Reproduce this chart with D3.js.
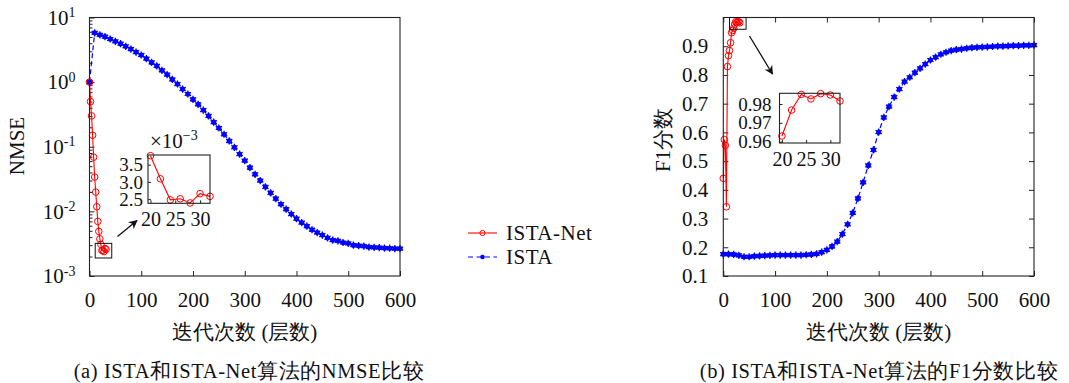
<!DOCTYPE html>
<html>
<head>
<meta charset="utf-8">
<script src="https://cdn.jsdelivr.net/npm/d3@7"></script>
<style>
  body { margin: 0; background: #fff; }
  svg { display: block; }
</style>
</head>
<body>
<div id="chart"></div>
<script>
// ---- 数据 ----
// ISTA: 每 10 次迭代一个点
const istaIter = [0, 10, 20, 30, 40, 50, 60, 70, 80, 90, 100, 110, 120, 130, 140, 150, 160, 170, 180, 190,
  200, 210, 220, 230, 240, 250, 260, 270, 280, 290, 300, 310, 320, 330, 340, 350, 360, 370, 380, 390,
  400, 410, 420, 430, 440, 450, 460, 470, 480, 490, 500, 510, 520, 530, 540, 550, 560, 570, 580, 590, 600];
const istaNmse = [1.0, 5.8, 5.4, 5.05, 4.65, 4.28, 3.94, 3.58, 3.25, 2.92, 2.63, 2.31, 2.02, 1.78, 1.52, 1.31,
  1.10, 0.935, 0.78, 0.655, 0.54, 0.454, 0.37, 0.30, 0.24, 0.195, 0.156, 0.123, 0.098, 0.077, 0.061,
  0.0475, 0.0375, 0.030, 0.0239, 0.0193, 0.0157, 0.0129, 0.0108, 0.0091, 0.0077, 0.0067, 0.0059, 0.0052,
  0.0047, 0.0043, 0.0039, 0.0036, 0.0035, 0.0033, 0.0032, 0.0030, 0.00295, 0.0029, 0.0028, 0.00278,
  0.00275, 0.0027, 0.00269, 0.00266, 0.00266];
const istaF1 = [0.176, 0.176, 0.175, 0.172, 0.167, 0.167, 0.169, 0.170, 0.171, 0.172, 0.173, 0.173, 0.173,
  0.173, 0.173, 0.173, 0.174, 0.175, 0.177, 0.183, 0.191, 0.203, 0.220, 0.246, 0.280, 0.320, 0.370, 0.426,
  0.485, 0.539, 0.601, 0.652, 0.690, 0.723, 0.751, 0.777, 0.792, 0.808, 0.823, 0.838, 0.852, 0.862, 0.872,
  0.879, 0.885, 0.888, 0.890, 0.893, 0.895, 0.896, 0.897, 0.898, 0.899, 0.900, 0.900, 0.901, 0.902, 0.902,
  0.903, 0.903, 0.904];

// ISTA-Net: 每 2 层一个点
const netIter = [0, 2, 4, 6, 8, 10, 12, 14, 16, 18, 20, 22, 24, 26, 28, 30, 32];
const netNmse = [1.0, 0.50, 0.30, 0.151, 0.069, 0.034, 0.0199, 0.0118, 0.0070, 0.0049,
  0.00376, 0.00309, 0.00248, 0.00251, 0.00239, 0.00266, 0.00258];
const netF1 = [0.44, 0.575, 0.555, 0.341, 0.829, 0.867, 0.885, 0.912, 0.947, 0.955,
  0.963, 0.9768, 0.9851, 0.9827, 0.9855, 0.9848, 0.9816];

const xTicks = [0, 100, 200, 300, 400, 500, 600];
const nmseTicks = [10, 1, 0.1, 0.01, 0.001];
const f1Ticks = [0.1, 0.2, 0.3, 0.4, 0.5, 0.6, 0.7, 0.8, 0.9];
const insetXTicks = [20, 25, 30];
const nmseInsetTicks = [2.5, 3.0, 3.5];
const f1InsetTicks = [0.96, 0.97, 0.98];

const seriesNames = ['ISTA-Net', 'ISTA'];
const xLabel = '迭代次数 (层数)';
const captions = ['(a) ISTA和ISTA-Net算法的NMSE比较', '(b) ISTA和ISTA-Net算法的F1分数比较'];

// ---- 配置 ----
const W = 1069, H = 383;
const FS = 21;
const FONT = "'Liberation Serif', serif";
const RED = '#ff0000', BLUE = '#0000ff';
const panelA = { x0: 89.5, x1: 400, y0: 17.5, y1: 276 };
const panelB = { x0: 723.3, x1: 1034, y0: 17.5, y1: 276 };

const svg = d3.select('#chart').append('svg')
  .attr('width', W).attr('height', H)
  .attr('font-family', FONT);

const defs = svg.append('defs');
defs.append('marker')
  .attr('id', 'arrow')
  .attr('viewBox', '0 0 10 10')
  .attr('refX', 9).attr('refY', 5)
  .attr('markerWidth', 9).attr('markerHeight', 9)
  .attr('markerUnits', 'userSpaceOnUse')
  .attr('orient', 'auto')
  .append('path').attr('d', 'M0,0 L10,5 L0,10 L3,5 Z').attr('fill', '#111');

function styleAxis(g, fs) {
  g.attr('font-family', FONT).attr('font-size', fs || FS);
  g.select('.domain').remove();
  g.selectAll('.tick line').attr('stroke', '#222');
  g.selectAll('.tick text').attr('fill', '#111');
}

function label(g, txt, x, y, fs, rot) {
  return g.append('text')
    .attr('transform', rot ? `translate(${x},${y}) rotate(-90)` : `translate(${x},${y})`)
    .attr('text-anchor', 'middle').attr('dominant-baseline', 'central')
    .attr('font-family', FONT).attr('font-size', fs).attr('fill', '#111').text(txt);
}

function frame(g, x, y, w, h) {
  g.append('rect').attr('x', x).attr('y', y).attr('width', w).attr('height', h)
    .attr('fill', 'none').attr('stroke', '#222').attr('stroke-width', 1.1);
}

const starSym = d3.symbol(d3.symbolAsterisk, 36);

function drawIsta(g, xs, ys, vals) {
  const line = d3.line().x((d, i) => xs(istaIter[i])).y(d => ys(d));
  g.append('path').datum(vals).attr('d', line)
    .attr('fill', 'none').attr('stroke', BLUE).attr('stroke-width', 1.2)
    .attr('stroke-dasharray', '5,3');
  const m = g.append('g').selectAll('g').data(vals).join('g')
    .attr('transform', (d, i) => `translate(${xs(istaIter[i])},${ys(d)})`);
  m.append('circle').attr('r', 2.6).attr('fill', BLUE);
  m.append('path').attr('d', starSym).attr('stroke', BLUE).attr('stroke-width', 1.3).attr('fill', 'none');
}

function drawNet(g, xs, ys, iters, vals) {
  const line = d3.line().x((d, i) => xs(iters[i])).y(d => ys(d));
  g.append('path').datum(vals).attr('d', line)
    .attr('fill', 'none').attr('stroke', RED).attr('stroke-width', 1.1);
  g.append('g').selectAll('circle').data(vals).join('circle')
    .attr('cx', (d, i) => xs(iters[i])).attr('cy', d => ys(d))
    .attr('r', 3.3).attr('fill', 'none').attr('stroke', RED).attr('stroke-width', 1);
}

// ---- (a) NMSE ----
{
  const p = panelA;
  const x = d3.scaleLinear().domain([0, 600]).range([p.x0, p.x1]);
  const y = d3.scaleLog().domain([0.001, 10]).range([p.y1, p.y0]);
  const g = svg.append('g');

  // 坐标轴
  g.append('g').attr('transform', `translate(0,${p.y1})`)
    .call(d3.axisBottom(x).tickValues(xTicks).tickSizeInner(-5).tickSizeOuter(0).tickPadding(16))
    .call(styleAxis);

  const minors = [];
  [0.001, 0.01, 0.1, 1].forEach(b => { for (let k = 2; k <= 9; k++) minors.push(b * k); });
  g.append('g').attr('transform', `translate(${p.x0},0)`)
    .call(d3.axisLeft(y).tickValues(minors).tickSizeInner(-3).tickSizeOuter(0).tickFormat(''))
    .call(styleAxis);
  const ya = g.append('g').attr('transform', `translate(${p.x0},0)`)
    .call(d3.axisLeft(y).tickValues(nmseTicks).tickSizeInner(-5).tickSizeOuter(0).tickPadding(14))
    .call(styleAxis);
  ya.selectAll('.tick text').text(null).attr('dy', '0.32em')
    .each(function (d) {
      const t = d3.select(this);
      t.append('tspan').text('10');
      t.append('tspan').attr('font-size', 14).attr('dy', '-0.55em').text(Math.round(Math.log10(d)));
    });

  drawIsta(g, x, y, istaNmse);
  drawNet(g, x, y, netIter, netNmse);
  frame(g, p.x0, p.y0, p.x1 - p.x0, p.y1 - p.y0);

  // 放大区域标记
  g.append('rect').attr('x', x(11)).attr('y', y(0.0032))
    .attr('width', x(43) - x(11)).attr('height', y(0.0019) - y(0.0032))
    .attr('fill', 'none').attr('stroke', '#111').attr('stroke-width', 1);
  g.append('line').attr('x1', 117.5).attr('y1', 236.5).attr('x2', 137).attr('y2', 220.5)
    .attr('stroke', '#111').attr('stroke-width', 1.3).attr('marker-end', 'url(#arrow)');

  // 插图
  const ib = { x0: 148, x1: 210, y0: 155, y1: 203.3 };
  const ix = d3.scaleLinear().domain([19.5, 32]).range([ib.x0, ib.x1]);
  const iy = d3.scaleLinear().domain([2.38, 3.78]).range([ib.y1, ib.y0]);
  const ig = g.append('g');
  ig.append('rect').attr('x', ib.x0).attr('y', ib.y0).attr('width', ib.x1 - ib.x0)
    .attr('height', ib.y1 - ib.y0).attr('fill', '#fff');
  ig.append('g').attr('transform', `translate(0,${ib.y1})`)
    .call(d3.axisBottom(ix).tickValues(insetXTicks).tickSizeInner(-3).tickSizeOuter(0).tickPadding(9))
    .call(styleAxis, 20);
  ig.append('g').attr('transform', `translate(${ib.x0},0)`)
    .call(d3.axisLeft(iy).tickValues(nmseInsetTicks).tickSizeInner(-3).tickSizeOuter(0)
      .tickPadding(5).tickFormat(d3.format('.1f')))
    .call(styleAxis, 19);
  drawNet(ig, ix, d => iy(d * 1000), netIter.slice(10), netNmse.slice(10));
  frame(ig, ib.x0, ib.y0, ib.x1 - ib.x0, ib.y1 - ib.y0);
  const sc = ig.append('text').attr('x', 150).attr('y', 148)
    .attr('font-family', FONT).attr('font-size', FS).attr('fill', '#111');
  sc.append('tspan').text('×10');
  sc.append('tspan').attr('font-size', 14).attr('dy', '-0.55em').text('−3');

  // 标签
  label(g, 'NMSE', 17, 146, FS, true);
  label(g, xLabel, (p.x0 + p.x1) / 2, 332, FS);
  label(g, captions[0], 249, 371, 20.5).attr('letter-spacing', 0.6);
}

// ---- (b) F1 ----
{
  const p = panelB;
  const x = d3.scaleLinear().domain([0, 600]).range([p.x0, p.x1]);
  const y = d3.scaleLinear().domain([0.1, 1.0]).range([p.y1, p.y0]);
  const g = svg.append('g');

  g.append('g').attr('transform', `translate(0,${p.y1})`)
    .call(d3.axisBottom(x).tickValues(xTicks).tickSizeInner(-5).tickSizeOuter(0).tickPadding(16))
    .call(styleAxis);
  g.append('g').attr('transform', `translate(0,${p.y0})`)
    .call(d3.axisTop(x).tickValues(xTicks).tickSizeInner(-5).tickSizeOuter(0).tickFormat(''))
    .call(styleAxis);
  g.append('g').attr('transform', `translate(${p.x0},0)`)
    .call(d3.axisLeft(y).tickValues(f1Ticks).tickSizeInner(-5).tickSizeOuter(0).tickPadding(15)
      .tickFormat(d3.format('.1f')))
    .call(styleAxis);
  g.append('g').attr('transform', `translate(${p.x1},0)`)
    .call(d3.axisRight(y).tickValues(f1Ticks).tickSizeInner(-5).tickSizeOuter(0).tickFormat(''))
    .call(styleAxis);

  drawIsta(g, x, y, istaF1);
  drawNet(g, x, y, netIter, netF1);
  frame(g, p.x0, p.y0, p.x1 - p.x0, p.y1 - p.y0);

  g.append('rect').attr('x', x(12)).attr('y', y(1.0))
    .attr('width', x(44) - x(12)).attr('height', y(0.959) - y(1.0))
    .attr('fill', 'none').attr('stroke', '#111').attr('stroke-width', 1);
  g.append('line').attr('x1', 749.5).attr('y1', 36).attr('x2', 772.5).attr('y2', 74)
    .attr('stroke', '#111').attr('stroke-width', 1.3).attr('marker-end', 'url(#arrow)');

  const ib = { x0: 779.5, x1: 840, y0: 93.3, y1: 143 };
  const ix = d3.scaleLinear().domain([19.5, 32]).range([ib.x0, ib.x1]);
  const iy = d3.scaleLinear().domain([0.9593, 0.9857]).range([ib.y1, ib.y0]);
  const ig = g.append('g');
  ig.append('rect').attr('x', ib.x0).attr('y', ib.y0).attr('width', ib.x1 - ib.x0)
    .attr('height', ib.y1 - ib.y0).attr('fill', '#fff');
  ig.append('g').attr('transform', `translate(0,${ib.y1})`)
    .call(d3.axisBottom(ix).tickValues(insetXTicks).tickSizeInner(-3).tickSizeOuter(0).tickPadding(9))
    .call(styleAxis, 20);
  ig.append('g').attr('transform', `translate(${ib.x0},0)`)
    .call(d3.axisLeft(iy).tickValues(f1InsetTicks).tickSizeInner(-3).tickSizeOuter(0)
      .tickPadding(8).tickFormat(d3.format('.2f')))
    .call(styleAxis, 19);
  drawNet(ig, ix, iy, netIter.slice(10), netF1.slice(10));
  frame(ig, ib.x0, ib.y0, ib.x1 - ib.x0, ib.y1 - ib.y0);

  label(g, 'F1分数', 663, 140, FS, true);
  label(g, xLabel, (p.x0 + p.x1) / 2, 332, FS);
  label(g, captions[1], 879, 371, 20.5).attr('letter-spacing', 0.6);
}

// ---- 图例 ----
{
  const lg = svg.append('g');
  const rows = [233, 257];
  lg.append('line').attr('x1', 468).attr('x2', 497).attr('y1', rows[0]).attr('y2', rows[0])
    .attr('stroke', RED).attr('stroke-width', 1.1);
  lg.append('circle').attr('cx', 482.5).attr('cy', rows[0]).attr('r', 2.6)
    .attr('fill', 'none').attr('stroke', RED).attr('stroke-width', 1);
  lg.append('line').attr('x1', 468).attr('x2', 497).attr('y1', rows[1]).attr('y2', rows[1])
    .attr('stroke', BLUE).attr('stroke-width', 1.2).attr('stroke-dasharray', '5,3.5');
  lg.append('circle').attr('cx', 482.5).attr('cy', rows[1]).attr('r', 2.3).attr('fill', BLUE);
  lg.selectAll('text.lab').data(seriesNames).join('text')
    .attr('x', 506).attr('y', (d, i) => rows[i])
    .attr('font-family', FONT).attr('fill', '#111').attr('letter-spacing', 0.5)
    .attr('dominant-baseline', 'central').attr('font-size', FS).text(d => d);
}
</script>
</body>
</html>
